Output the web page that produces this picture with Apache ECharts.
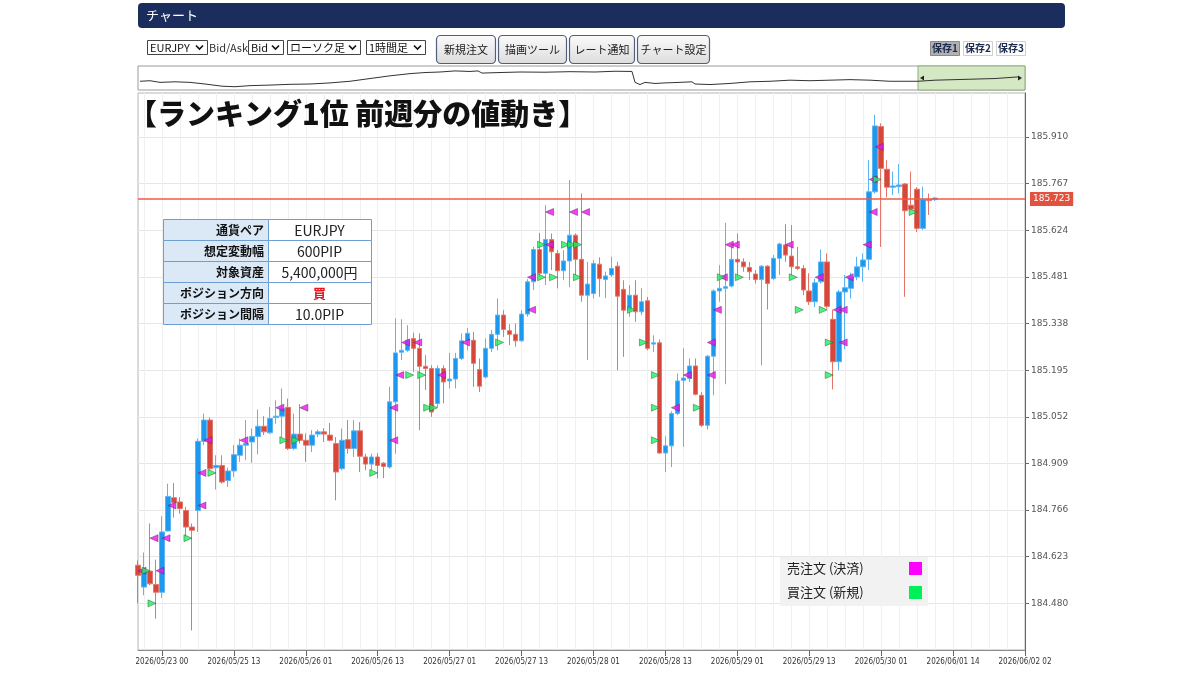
<!DOCTYPE html>
<html lang="ja">
<head>
<meta charset="utf-8">
<title>EURJPY 1時間足チャート</title>
<script src="https://cdn.jsdelivr.net/npm/echarts@6.0.0/dist/echarts.min.js"></script>
<style>
  html, body { margin: 0; padding: 0; background: #fff; }
  #chart { width: 1200px; height: 675px; }
</style>
</head>
<body>
<div id="chart"></div>
<script>
const FONT = "'Noto Sans CJK JP', 'Noto Sans', sans-serif";

// EURJPY Bid 1時間足（前週分）
const candleOpen = [
  184.597, 184.530, 184.579, 184.538, 184.514, 184.702, 184.804, 184.791, 184.765, 184.714,
  184.765, 184.977, 185.042, 184.896, 184.903, 184.857, 184.886, 184.934, 184.965, 184.975,
  184.992, 185.023, 185.003, 185.050, 185.054, 185.081, 184.955, 184.999, 184.980, 184.965,
  184.999, 185.006, 184.996, 184.970, 184.893, 184.982, 184.955, 185.009, 184.929, 184.907,
  184.929, 184.910, 184.898, 185.098, 185.250, 185.256, 185.292, 185.262, 185.207, 185.200,
  185.093, 185.200, 185.162, 185.168, 185.231, 185.285, 185.287, 185.197, 185.174, 185.262,
  185.305, 185.364, 185.316, 185.305, 185.285, 185.367, 185.466, 185.565, 185.492, 185.596,
  185.553, 185.500, 185.530, 185.609, 185.535, 185.425, 185.430, 185.520, 185.473, 185.487,
  185.514, 185.443, 185.379, 185.425, 185.374, 185.408, 185.275, 185.279, 184.941, 184.963,
  185.062, 185.164, 185.170, 185.208, 185.118, 185.026, 185.238, 185.438, 185.446, 185.453,
  185.535, 185.527, 185.510, 185.490, 185.473, 185.514, 185.476, 185.538, 185.579, 185.545,
  185.512, 185.507, 185.438, 185.405, 185.466, 185.527, 185.351, 185.221, 185.435, 185.446,
  185.481, 185.512, 185.535, 185.742, 185.942, 185.811, 185.756, 185.758, 185.766, 185.701,
  185.750, 185.630, 185.719, 185.718
];
const candleClose = [
  184.566, 184.581, 184.540, 184.514, 184.699, 184.808, 184.789, 184.771, 184.714, 184.704,
  184.977, 185.042, 184.893, 184.903, 184.852, 184.886, 184.936, 184.965, 184.970, 184.992,
  185.023, 185.006, 185.047, 185.054, 185.077, 184.955, 184.999, 184.980, 184.965, 184.996,
  185.006, 184.999, 184.980, 184.883, 184.980, 184.955, 185.009, 184.931, 184.907, 184.929,
  184.903, 184.900, 185.098, 185.248, 185.256, 185.287, 185.262, 185.207, 185.200, 185.067,
  185.200, 185.159, 185.168, 185.231, 185.285, 185.308, 185.216, 185.146, 185.262, 185.305,
  185.364, 185.320, 185.305, 185.285, 185.367, 185.466, 185.565, 185.492, 185.596, 185.558,
  185.500, 185.530, 185.609, 185.535, 185.425, 185.459, 185.522, 185.476, 185.484, 185.507,
  185.422, 185.379, 185.425, 185.374, 185.405, 185.262, 185.279, 184.941, 184.963, 185.062,
  185.162, 185.171, 185.208, 185.121, 185.026, 185.238, 185.438, 185.446, 185.451, 185.535,
  185.527, 185.512, 185.497, 185.473, 185.514, 185.461, 185.538, 185.582, 185.548, 185.512,
  185.507, 185.441, 185.405, 185.463, 185.527, 185.391, 185.221, 185.435, 185.448, 185.481,
  185.512, 185.533, 185.742, 185.944, 185.814, 185.756, 185.760, 185.763, 185.684, 185.689,
  185.630, 185.719, 185.715, 185.723
];
const candleLow = [
  184.480, 184.505, 184.535, 184.433, 184.497, 184.701, 184.743, 184.755, 184.683, 184.397,
  184.699, 184.965, 184.888, 184.829, 184.847, 184.837, 184.868, 184.914, 184.919, 184.911,
  184.937, 184.996, 184.999, 185.031, 184.990, 184.950, 184.950, 184.970, 184.914, 184.944,
  184.990, 184.975, 184.977, 184.796, 184.888, 184.939, 184.929, 184.883, 184.888, 184.888,
  184.863, 184.864, 184.893, 184.939, 185.226, 185.251, 185.190, 185.011, 185.134, 185.052,
  185.082, 185.093, 185.139, 185.139, 185.226, 185.256, 185.144, 185.128, 185.170, 185.251,
  185.256, 185.297, 185.272, 185.267, 185.282, 185.359, 185.441, 185.481, 185.456, 185.502,
  185.446, 185.471, 185.449, 185.487, 185.405, 185.226, 185.415, 185.420, 185.416, 185.481,
  185.195, 185.236, 185.359, 185.343, 185.364, 185.256, 185.251, 184.939, 184.883, 184.898,
  185.057, 184.960, 185.159, 185.118, 185.021, 185.013, 185.118, 185.405, 185.152, 185.449,
  185.481, 185.497, 185.471, 185.461, 185.210, 185.381, 185.471, 185.487, 185.527, 185.484,
  185.502, 185.425, 185.395, 185.389, 185.461, 185.384, 185.136, 185.195, 185.259, 185.415,
  185.471, 185.466, 185.502, 185.737, 185.573, 185.725, 185.732, 185.737, 185.420, 185.683,
  185.619, 185.625, 185.671, 185.714
];
const candleHigh = [
  184.612, 184.636, 184.725, 184.614, 184.747, 184.847, 184.849, 184.806, 184.776, 184.725,
  184.986, 185.062, 185.050, 184.934, 184.934, 184.896, 184.965, 184.985, 185.042, 185.016,
  185.074, 185.054, 185.082, 185.103, 185.139, 185.108, 185.062, 185.091, 185.001, 185.011,
  185.013, 185.017, 185.033, 184.990, 185.016, 185.042, 185.042, 185.036, 184.939, 184.939,
  184.941, 184.913, 185.144, 185.354, 185.351, 185.333, 185.310, 185.308, 185.241, 185.210,
  185.210, 185.210, 185.248, 185.248, 185.308, 185.324, 185.313, 185.231, 185.292, 185.318,
  185.415, 185.379, 185.336, 185.338, 185.379, 185.474, 185.573, 185.616, 185.701, 185.614,
  185.563, 185.563, 185.778, 185.614, 185.737, 185.527, 185.533, 185.541, 185.497, 185.543,
  185.527, 185.471, 185.456, 185.471, 185.446, 185.420, 185.302, 185.289, 184.992, 185.069,
  185.185, 185.262, 185.231, 185.231, 185.128, 185.241, 185.443, 185.517, 185.647, 185.573,
  185.614, 185.538, 185.527, 185.502, 185.517, 185.517, 185.548, 185.586, 185.643, 185.640,
  185.573, 185.517, 185.492, 185.476, 185.565, 185.553, 185.381, 185.441, 185.487, 185.494,
  185.543, 185.553, 185.839, 185.978, 185.952, 185.839, 185.804, 185.827, 185.769, 185.804,
  185.756, 185.758, 185.737, 185.726
];

// x軸: 1時間ごとの枠（右側は未来の空き枠）、12本ごとに日時ラベル
const SLOT_COUNT = 149;
const xTickLabels = [
  '2026/05/23 00', '2026/05/25 13', '2026/05/26 01', '2026/05/26 13', '2026/05/27 01',
  '2026/05/27 13', '2026/05/28 01', '2026/05/28 13', '2026/05/29 01', '2026/05/29 13',
  '2026/05/30 01', '2026/06/01 14', '2026/06/02 02'
];
const yTickValues = [
  184.480, 184.623, 184.766, 184.909, 185.052, 185.195,
  185.338, 185.481, 185.624, 185.767, 185.910
];
const lastRate = 185.723;

// 注文マーカー [枠番号, レート]（10PIP間隔）
const sellMarks = [
  [0, 184.58], [2, 184.68], [3, 184.58], [4, 184.68], [5, 184.78], [10, 184.78], [10, 184.88],
  [11, 184.98], [17, 184.98], [23, 185.08], [27, 185.08], [42, 184.98], [42, 185.08], [43, 185.18],
  [44, 185.28], [46, 185.28], [50, 185.18], [54, 185.28], [65, 185.38], [65, 185.48], [68, 185.58],
  [68, 185.68], [72, 185.68], [74, 185.68], [89, 185.08], [91, 185.18], [95, 185.18], [95, 185.28],
  [96, 185.38], [97, 185.48], [98, 185.58], [99, 185.58], [108, 185.58], [113, 185.48], [116, 185.38],
  [117, 185.38], [117, 185.28], [118, 185.48], [121, 185.58], [122, 185.68], [122, 185.78], [123, 185.88]
];
const buyMarks = [
  [2, 184.58], [3, 184.48], [9, 184.68], [13, 184.88], [25, 184.98], [27, 184.98], [40, 184.88],
  [46, 185.18], [48, 185.18], [49, 185.08], [50, 185.08], [61, 185.28], [68, 185.48], [70, 185.48],
  [68, 185.58], [72, 185.58], [73, 185.58], [74, 185.58], [74, 185.48], [83, 185.38], [85, 185.28],
  [87, 185.18], [87, 185.08], [87, 184.98], [94, 185.08], [98, 185.48], [101, 185.48], [110, 185.48],
  [111, 185.38], [115, 185.38], [116, 185.28], [116, 185.18], [124, 185.78], [130, 185.68]
];
const SELL_NAME = '売注文 (決済)';
const BUY_NAME = '買注文 (新規)';

// ナビゲーター（長期の値動き、日数とレベル）
const navDay = [
  0, 0.5, 1, 1.75, 2.5, 3.25, 4.1, 4.75, 5.5, 6.5, 7.5, 8.5, 9.5, 10.5, 11.5, 12.5, 13.5,
  14.25, 15, 15.75, 16.5, 16.9, 17.1, 18, 19, 20.25, 21.5, 22.75, 23.75, 24.6, 24.75, 25,
  25.25, 25.75, 26.25, 27, 27.6, 27.75, 28.5, 29.5, 30.5, 31.5, 32.5, 33.5, 34.5, 35.5, 36.5,
  37.5, 38.25, 38.9, 39.75, 40.75, 41.75, 42.75, 43.5, 43.9
];
const navLevel = [
  10, 10.5, 9, 9.5, 9, 7.5, 5.5, 5, 6, 6.5, 7.2, 7.5, 8.5, 10, 12.5, 15, 17,
  18, 18.5, 19.5, 19, 19.5, 17.5, 18, 18.5, 18.3, 18.8, 18.5, 19.2, 19, 9, 7,
  9, 8, 8.5, 9, 9.5, 7.5, 7, 8, 9.5, 10, 11, 10.5, 11, 11.5, 11,
  10, 10, 10, 11, 11.5, 12, 12.5, 13.5, 14
];
const navRangeStart = 38.9;
const navRangeEnd = 44.25;

const infoLabels = ['通貨ペア', '想定変動幅', '対象資産', 'ポジション方向', 'ポジション間隔'];
const infoValues = ['EURJPY', '600PIP', '5,400,000円', '買', '10.0PIP'];

const SELL_COLOR = '#f010f0';
const BUY_COLOR = '#1ef060';
const PRICE_LINE_COLOR = '#f05a45';

const categories = Array.from({ length: SLOT_COUNT }, (_, i) =>
  i % 12 === 4 ? xTickLabels[(i - 4) / 12] : 'slot' + i
);
const isLabelSlot = (i) => i % 12 === 4;

const TOP_Z = 50;

function text(x, y, str, opts) {
  return {
    type: 'text', x, y, z: TOP_Z + 1,
    style: Object.assign({
      text: str, fontFamily: FONT, fontSize: 12, fill: '#222',
      align: 'left', verticalAlign: 'middle'
    }, opts || {})
  };
}

function box(shape, style) {
  return { type: 'rect', z: TOP_Z, shape, style };
}

function selectBox(x, w, label) {
  return [
    box({ x: x + 0.5, y: 40.5, width: w, height: 14 }, { fill: '#fff', stroke: '#444', lineWidth: 1 }),
    text(x + 3, 48, label, { fontSize: 11, fill: '#111' }),
    { type: 'polyline', z: TOP_Z + 1,
      shape: { points: [[x + w - 11, 45.5], [x + w - 7.5, 49], [x + w - 4, 45.5]] },
      style: { stroke: '#111', lineWidth: 1.6, fill: null } }
  ];
}

function button(x, w, label) {
  return [
    box({ x: x + 0.5, y: 35.5, width: w, height: 28, r: 4 }, {
      fill: new echarts.graphic.LinearGradient(0, 0, 0, 1, [
        { offset: 0, color: '#fbfbfb' },
        { offset: 1, color: '#dcdcdc' }
      ]),
      stroke: '#4f5f7d', lineWidth: 1.2
    }),
    text(x + w / 2 + 0.5, 49.5, label, { align: 'center', fontSize: 11, fill: '#222' })
  ];
}

function saveTab(x, label, active) {
  return [
    box({ x: x + 0.5, y: 41.5, width: 29, height: 14 },
      { fill: active ? '#b1b1b1' : '#fff', stroke: active ? '#8a8a8a' : '#cfcfcf', lineWidth: 1 }),
    text(x + 15, 48.5, label, { align: 'center', fontSize: 10, fontWeight: 'bold', fill: '#1d2b4f' })
  ];
}

function infoTable(x0, y0, labelW, valueW, rowH) {
  const els = [];
  infoLabels.forEach((label, i) => {
    const y = y0 + i * rowH;
    els.push(box({ x: x0 + 0.5, y: y + 0.5, width: labelW, height: rowH },
      { fill: '#dbe8f6', stroke: '#6e9fd3', lineWidth: 1 }));
    els.push(box({ x: x0 + labelW + 0.5, y: y + 0.5, width: valueW, height: rowH },
      { fill: '#fff', stroke: '#6e9fd3', lineWidth: 1 }));
    els.push(text(x0 + labelW - 4, y + rowH / 2 + 1, label,
      { align: 'right', fontSize: 12, fontWeight: 'bold', fill: '#111' }));
    const isSide = infoValues[i] === '買';
    els.push(text(x0 + labelW + valueW / 2, y + rowH / 2 + 1, infoValues[i], {
      align: 'center', fontSize: isSide ? 13 : 14,
      fontWeight: isSide ? 'bold' : 'normal', fill: isSide ? '#e8141e' : '#222'
    }));
  });
  return els;
}

// 凡例（文字が左、色の四角が右）
function orderLegend(x0, y0) {
  return [
    box({ x: x0, y: y0, width: 148, height: 49 }, { fill: '#f2f2f2' }),
    text(x0 + 7, y0 + 11.5, SELL_NAME, { fontSize: 13, fill: '#222' }),
    box({ x: x0 + 129, y: y0 + 5, width: 13, height: 13 }, { fill: '#ff00ff' }),
    text(x0 + 7, y0 + 35.5, BUY_NAME, { fontSize: 13, fill: '#222' }),
    box({ x: x0 + 129, y: y0 + 29, width: 13, height: 13 }, { fill: '#00f05a' })
  ];
}

const graphicElements = [
  box({ x: 138, y: 3, width: 927, height: 25, r: 4 }, { fill: '#1b2d5c' }),
  text(146, 15.5, 'チャート', { fontSize: 13, fill: '#fff' }),
  ...selectBox(147, 60, 'EURJPY'),
  text(209, 48, 'Bid/Ask', { fontSize: 11, fill: '#333' }),
  ...selectBox(248, 35, 'Bid'),
  ...selectBox(287, 73, 'ローソク足'),
  ...selectBox(366, 59, '1時間足'),
  ...button(436, 59, '新規注文'),
  ...button(498, 68, '描画ツール'),
  ...button(569, 65, 'レート通知'),
  ...button(637, 72, 'チャート設定'),
  ...saveTab(930, '保存1', true),
  ...saveTab(963, '保存2', false),
  ...saveTab(996, '保存3', false),
  { type: 'polygon', z: TOP_Z, shape: { points: [[920, 78], [924, 75.5], [924, 80.5]] }, style: { fill: '#222' } },
  { type: 'polygon', z: TOP_Z, shape: { points: [[1022, 78], [1018, 75.5], [1018, 80.5]] }, style: { fill: '#222' } },
  text(128, 114, '【ランキング1位 前週分の値動き】', { fontSize: 29, fontWeight: 900, fill: '#111' }),
  ...infoTable(163, 219, 105, 103, 21),
  ...orderLegend(780, 557)
];

const chart = echarts.init(document.getElementById('chart'), null, { renderer: 'canvas' });

chart.setOption({
  animation: false,
  backgroundColor: '#fff',
  textStyle: { fontFamily: FONT },
  graphic: graphicElements,
  grid: [
    { left: 138, top: 93, width: 887, height: 557, show: true, borderColor: '#b5b5b5', borderWidth: 1 },
    { left: 138, top: 66, width: 887, height: 24, show: true, borderColor: '#9a9a9a', borderWidth: 1 }
  ],
  xAxis: [
    {
      type: 'category',
      gridIndex: 0,
      data: categories,
      boundaryGap: false,
      axisLine: { lineStyle: { color: '#8c8c8c' } },
      axisTick: { interval: isLabelSlot, length: 6, lineStyle: { color: '#666' } },
      axisLabel: {
        interval: isLabelSlot,
        fontSize: 8,
        color: '#333',
        margin: 8,
        fontFamily: 'DejaVu Sans Condensed, DejaVu Sans, sans-serif'
      },
      splitLine: { show: true, interval: (i) => i % 3 === 1, lineStyle: { color: '#f0f0f0' } }
    },
    { type: 'value', gridIndex: 1, min: -0.1, max: navRangeEnd, show: false }
  ],
  yAxis: [
    {
      type: 'value',
      gridIndex: 0,
      position: 'right',
      min: 184.337,
      max: 186.045,
      axisLine: { show: true, lineStyle: { color: '#666' } },
      axisTick: { show: true, customValues: yTickValues, length: 4, lineStyle: { color: '#666' } },
      axisLabel: {
        customValues: yTickValues,
        formatter: (v) => Number(v).toFixed(3),
        fontSize: 9,
        color: '#555',
        margin: 6,
        fontFamily: 'DejaVu Sans, sans-serif'
      },
      splitLine: { show: true, lineStyle: { color: '#e6e6e6' } }
    },
    { type: 'value', gridIndex: 1, min: 2, max: 24, show: false }
  ],
  series: [
    {
      name: 'EURJPY',
      type: 'candlestick',
      xAxisIndex: 0,
      yAxisIndex: 0,
      barWidth: 5,
      itemStyle: {
        color: '#1c98ef',
        color0: '#d8463a',
        borderColor: '#5cb4f3',
        borderColor0: '#e3766a',
        borderWidth: 1
      },
      data: candleOpen.map((o, i) => [o, candleClose[i], candleLow[i], candleHigh[i]])
    },
    {
      name: SELL_NAME,
      type: 'scatter',
      xAxisIndex: 0,
      yAxisIndex: 0,
      symbol: 'triangle',
      symbolSize: [7, 8],
      symbolRotate: 90,
      symbolOffset: [4, 0],
      itemStyle: { color: SELL_COLOR, borderColor: '#5a2a5a', borderWidth: 0.6 },
      z: 5,
      data: sellMarks,
      // 現在レートのライン
      markLine: {
        silent: true,
        symbol: 'none',
        z: 3,
        lineStyle: { color: PRICE_LINE_COLOR, width: 1.5, type: 'solid', opacity: 1 },
        label: {
          position: 'end',
          distance: 5,
          formatter: () => lastRate.toFixed(3),
          backgroundColor: '#e2533f',
          color: '#fff',
          fontSize: 9,
          padding: [3, 3, 2, 3],
          fontFamily: 'DejaVu Sans, sans-serif'
        },
        data: [{ yAxis: lastRate, lineStyle: { color: PRICE_LINE_COLOR } }]
      }
    },
    {
      name: BUY_NAME,
      type: 'scatter',
      xAxisIndex: 0,
      yAxisIndex: 0,
      symbol: 'triangle',
      symbolSize: [7, 8],
      symbolRotate: -90,
      symbolOffset: [-4, 0],
      itemStyle: { color: BUY_COLOR, borderColor: '#2a5a33', borderWidth: 0.6 },
      z: 5,
      data: buyMarks
    },
    {
      name: 'navigator',
      type: 'line',
      xAxisIndex: 1,
      yAxisIndex: 1,
      showSymbol: false,
      silent: true,
      lineStyle: { color: '#333', width: 1 },
      data: navDay.map((d, i) => [d, navLevel[i]]),
      markArea: {
        silent: true,
        itemStyle: { color: '#d5e8c4', borderColor: '#8fae7c', borderWidth: 1 },
        data: [[{ xAxis: navRangeStart }, { xAxis: navRangeEnd }]]
      }
    }
  ]
});
</script>
</body>
</html>
